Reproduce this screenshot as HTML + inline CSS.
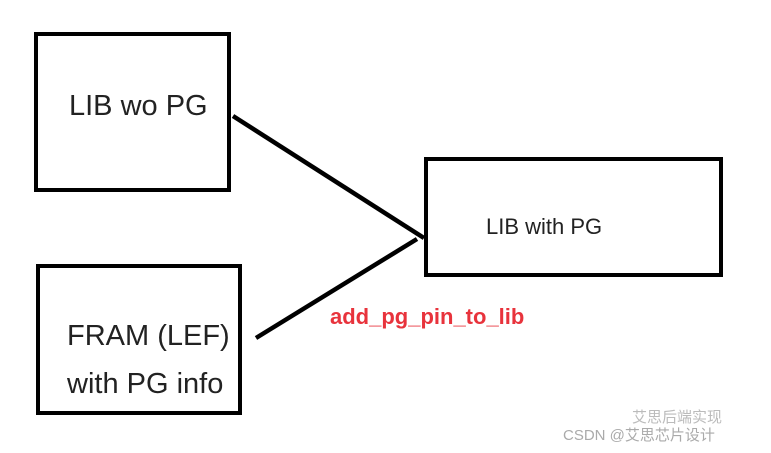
<!DOCTYPE html>
<html><head><meta charset="utf-8"><style>
body{margin:0;width:771px;height:453px;background:#fff;overflow:hidden;position:relative;font-family:"Liberation Sans",sans-serif}
.b{position:absolute;border:4.5px solid #000;box-sizing:border-box}
.t{position:absolute;color:#222;white-space:nowrap}
</style></head><body>
<div class="b" style="left:34px;top:32px;width:197px;height:160px"></div>
<div class="b" style="left:36px;top:264px;width:206px;height:151px"></div>
<div class="b" style="left:424px;top:157px;width:299px;height:120px"></div>
<svg width="771" height="453" style="position:absolute;left:0;top:0">
<line x1="233" y1="116" x2="424" y2="238" stroke="#000" stroke-width="4.5"/>
<line x1="417" y1="239" x2="256" y2="338" stroke="#000" stroke-width="4.5"/>
</svg>
<div class="t" style="left:69px;top:90px;font-size:29px">LIB wo PG</div>
<div class="t" style="left:486px;top:214px;font-size:22px">LIB with PG</div>
<div class="t" style="left:67px;top:320px;font-size:29px">FRAM (LEF)</div>
<div class="t" style="left:67px;top:368px;font-size:29px">with PG info</div>
<div class="t" style="left:330px;top:304px;font-size:22px;font-weight:bold;color:#e8333c">add_pg_pin_to_lib</div>
<div class="t" style="left:632px;top:406px;font-size:15px;color:#bbb;font-family:'Liberation Sans','Noto Sans CJK SC',sans-serif">艾思后端实现</div>
<div class="t" style="left:563px;top:424px;font-size:15px;color:#aaa;font-family:'Liberation Sans','Noto Sans CJK SC',sans-serif">CSDN @艾思芯片设计</div>
</body></html>
